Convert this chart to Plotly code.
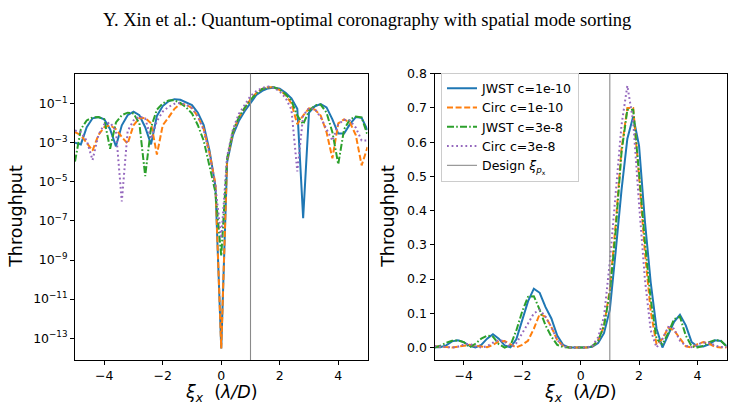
import plotly.graph_objects as go

# sample positions (lambda/D)
xi = [-5.0, -4.8, -4.6, -4.4, -4.2, -4.0, -3.8, -3.6, -3.4, -3.2, -3.0,
      -2.8, -2.6, -2.4, -2.2, -2.0, -1.8, -1.6, -1.4, -1.2, -1.0,
      -0.8, -0.6, -0.4, -0.2, 0.0, 0.2, 0.4, 0.6, 0.8, 1.0,
      1.2, 1.4, 1.6, 1.8, 2.0, 2.2, 2.4, 2.6, 2.8, 3.0,
      3.2, 3.4, 3.6, 3.8, 4.0, 4.2, 4.4, 4.6, 4.8, 5.0]

jwst_1e10 = [1.0e-3, 8.3e-4, 6.3e-3, 1.8e-2, 2.1e-2, 1.6e-2, 5.0e-3, 6.6e-4, 7.9e-3, 2.6e-2, 3.9e-2,
             2.6e-2, 6.3e-3, 8.3e-4, 2.4e-2, 7.6e-2, 0.135, 0.172, 0.160, 0.118, 0.085,
             0.035, 8.0e-3, 4.0e-4, 6.0e-6, 3.0e-14, 1.0e-4, 2.5e-3, 0.013, 0.042, 0.11,
             0.28, 0.46, 0.61, 0.675, 0.59, 0.37, 0.19, 0.055, 1.4e-7, 0.035,
             0.075, 0.096, 0.065, 0.016, 3.0e-3, 3.0e-3, 9.0e-3, 0.021, 0.019, 4.5e-3]

circ_1e10 = [3.5e-3, 2.5e-3, 1.0e-3, 4.0e-4, 2.5e-3, 6.3e-3, 7.9e-3, 5.0e-3, 2.0e-3, 9.0e-4, 7.9e-3,
             1.8e-2, 1.9e-2, 1.0e-2, 2.5e-4, 8.0e-3, 2.0e-2, 0.055, 0.098, 0.09, 0.06,
             0.022, 5.0e-3, 3.0e-4, 8.0e-6, 3.0e-14, 1.3e-4, 3.5e-3, 0.02, 0.063, 0.17,
             0.36, 0.58, 0.70, 0.70, 0.50, 0.28, 0.105, 9.0e-3, 0.025, 0.058,
             0.05, 0.025, 3.5e-3, 1.6e-4, 0.01, 0.016, 0.011, 2.5e-3, 7.0e-5, 6.0e-4]

jwst_3e8 = [1.1e-4, 5.0e-3, 1.4e-2, 2.0e-2, 2.1e-2, 1.6e-2, 5.0e-4, 1.1e-2, 2.6e-2, 3.5e-2, 3.2e-2,
            1.0e-2, 2.0e-5, 6.3e-3, 0.05, 0.105, 0.148, 0.15, 0.11, 0.065, 0.032,
            8.0e-3, 1.3e-3, 6.0e-5, 3.0e-6, 1.6e-9, 1.6e-4, 4.0e-3, 0.02, 0.063, 0.16,
            0.34, 0.57, 0.695, 0.695, 0.51, 0.31, 0.14, 0.025, 9.0e-3, 0.043,
            0.083, 0.09, 0.035, 3.5e-3, 8.0e-5, 5.0e-3, 0.016, 0.022, 0.02, 2.5e-3]

circ_3e8 = [4.3e-3, 3.5e-3, 1.3e-3, 1.3e-4, 2.5e-3, 8.9e-3, 1.1e-2, 4.0e-3, 1.0e-6, 4.0e-3, 1.4e-2,
            2.2e-2, 1.8e-2, 1.6e-3, 1.3e-2, 0.04, 0.07, 0.10, 0.11, 0.09, 0.06,
            0.022, 4.5e-3, 2.5e-4, 6.0e-6, 1.3e-8, 2.0e-4, 5.0e-3, 0.03, 0.09, 0.25,
            0.45, 0.65, 0.765, 0.66, 0.42, 0.2, 0.05, 3.4e-5, 0.025, 0.06,
            0.055, 0.02, 5.0e-3, 1.3e-3, 9.0e-3, 0.015, 0.014, 6.0e-3, 1.3e-3, 1.3e-3]

series_names = ["JWST c=1e-10", "Circ c=1e-10", "JWST c=3e-8", "Circ c=3e-8"]
design_xi = 1.0
design_label = "Design <i>ξ</i><sub><i>p</i><sub>x</sub></sub>"

log_tick_exps = [-13, -11, -9, -7, -5, -3, -1]
lin_ticks = [0.0, 0.1, 0.2, 0.3, 0.4, 0.5, 0.6, 0.7, 0.8]
x_ticks = [-4, -2, 0, 2, 4]

title_text = "Y. Xin et al.: Quantum-optimal coronagraphy with spatial mode sorting"

colors = ["#1f77b4", "#ff7f0e", "#2ca02c", "#9467bd"]
dashes = ["solid", "6px,2.6px", "7px,2.2px,1.6px,2.2px", "1.8px,2.8px"]
all_series = [jwst_1e10, circ_1e10, jwst_3e8, circ_3e8]

W, H = 734, 411
fig = go.Figure()
for s, name, c, d in zip(all_series, series_names, colors, dashes):
    fig.add_trace(go.Scatter(x=xi, y=s, mode="lines", name=name, showlegend=False,
                             line=dict(color=c, width=2, dash=d), xaxis="x", yaxis="y"))
for s, name, c, d in zip(all_series, series_names, colors, dashes):
    fig.add_trace(go.Scatter(x=xi, y=s, mode="lines", name=name, showlegend=True,
                             line=dict(color=c, width=2, dash=d), xaxis="x2", yaxis="y2"))
fig.add_trace(go.Scatter(x=[None], y=[None], mode="lines", name=design_label, showlegend=True,
                         line=dict(color="#9a9a9a", width=1.2), xaxis="x2", yaxis="y2"))

for xr, yr in (("x", "y domain"), ("x2", "y2 domain")):
    fig.add_shape(type="line", xref=xr, yref=yr, x0=design_xi, x1=design_xi, y0=0, y1=1,
                  line=dict(color="#8a8a8a", width=1.1), layer="above")

tick_font = dict(family="DejaVu Sans", size=12.5, color="black")
ax_common = dict(showline=True, mirror=True, linecolor="black", linewidth=1, ticks="outside",
                 ticklen=4, tickwidth=1, tickcolor="black", showgrid=False, zeroline=False,
                 tickfont=tick_font)

yd = [1 - 359 / H, 1 - 67 / H]
fig.update_layout(
    width=W, height=H, margin=dict(l=0, r=0, t=0, b=0),
    paper_bgcolor="white", plot_bgcolor="white",
    xaxis=dict(domain=[75 / W, 367.5 / W], range=[-5, 5], anchor="y",
               tickvals=x_ticks, ticktext=[str(t).replace("-", "−") for t in x_ticks], **ax_common),
    yaxis=dict(domain=yd, type="log", range=[-14.12, 0.54], anchor="x",
               tickvals=[10.0 ** e for e in log_tick_exps],
               ticktext=["10<sup>−%d</sup>" % (-e) for e in log_tick_exps], **ax_common),
    xaxis2=dict(domain=[434.5 / W, 726.7 / W], range=[-5, 5], anchor="y2",
                tickvals=x_ticks, ticktext=[str(t).replace("-", "−") for t in x_ticks], **ax_common),
    yaxis2=dict(domain=yd, range=[-0.0364, 0.8], anchor="x2",
                tickvals=lin_ticks, ticktext=["%.1f" % t for t in lin_ticks], **ax_common),
    legend=dict(x=441 / W, y=1 - 66 / H, xanchor="left", yanchor="top",
                bgcolor="rgba(255,255,255,0.8)", bordercolor="#cccccc", borderwidth=1,
                font=dict(family="DejaVu Sans", size=12.5, color="black"),
                tracegroupgap=0),
    showlegend=True,
)

label_font = dict(family="DejaVu Sans", size=17.5, color="black")
xlabel = "<i>ξ<sub>x</sub></i>\u00a0\u00a0(<i>λ/D</i>)"
annots = [
    dict(text=title_text, x=0.5, y=1 - 12 / H, xref="paper", yref="paper", showarrow=False,
         xanchor="center", yanchor="middle", font=dict(family="Liberation Serif", size=18.5, color="black")),
    dict(text="Throughput", x=16 / W, y=1 - 213 / H, xref="paper", yref="paper", showarrow=False,
         textangle=-90, xanchor="center", yanchor="middle", font=label_font),
    dict(text="Throughput", x=388 / W, y=1 - 213 / H, xref="paper", yref="paper", showarrow=False,
         textangle=-90, xanchor="center", yanchor="middle", font=label_font),
    dict(text=xlabel, x=221 / W, y=1 - 393 / H, xref="paper", yref="paper", showarrow=False,
         xanchor="center", yanchor="middle", font=label_font),
    dict(text=xlabel, x=580 / W, y=1 - 393 / H, xref="paper", yref="paper", showarrow=False,
         xanchor="center", yanchor="middle", font=label_font),
]
fig.update_layout(annotations=annots)

fig.write_html("out.html")
